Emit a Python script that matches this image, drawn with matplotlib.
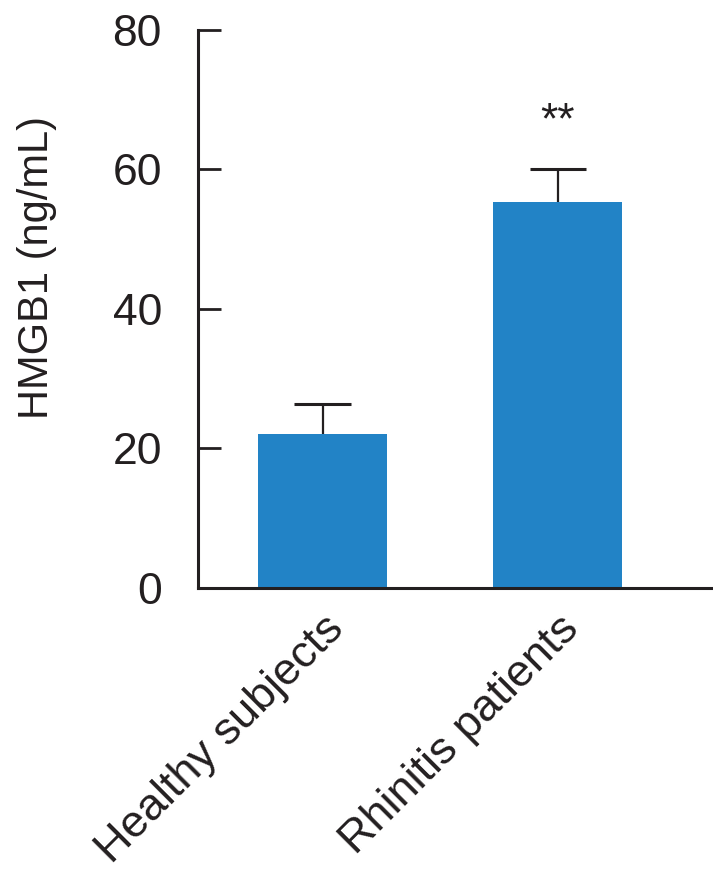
import numpy as np
import matplotlib.pyplot as plt

plt.rcParams['font.family'] = ['Liberation Sans', 'DejaVu Sans']

groups = ['Healthy subjects', 'Rhinitis patients']
means = np.array([22.0, 55.3])
sem = np.array([4.3, 4.7])
stars = ['', '**']

ink = '#231f20'
blue = '#2283c6'

fig = plt.figure(figsize=(7.13, 8.77), dpi=100)
ax = fig.add_axes([0.2777, 0.330, 0.7223, 0.6358])

x = np.arange(len(groups))
ax.bar(x, means, width=0.55, color=blue, zorder=2)
# upper-only error bars: stem plus cap
ax.vlines(x, means, means + sem, color=ink, linewidth=1.6, zorder=1)
ax.hlines(means + sem, x - 0.12, x + 0.12, color=ink, linewidth=2.2, zorder=1)

# significance marks above the error bars
for xi, m, s, lab in zip(x, means, sem, stars):
    if lab:
        ax.text(xi, m + s + 5.2, lab, ha='center', va='baseline',
                fontsize=32, color=ink)

ax.set_xlim(-0.53, 1.66)
ax.set_ylim(0, 80)
ax.set_yticks([0, 20, 40, 60, 80])
ax.set_xticks(x)
ax.set_xticklabels(groups, rotation=45, ha='right', rotation_mode='anchor',
                   fontsize=32.5, color=ink)
ax.tick_params(axis='x', length=0, pad=15)
ax.tick_params(axis='y', direction='in', length=16.5, width=2, colors=ink,
               labelsize=32, pad=26)

ax.set_ylabel('HMGB1 (ng/mL)', fontsize=30, color=ink)
ax.yaxis.set_label_coords(-0.274, 0.574)

for side in ['top', 'right']:
    ax.spines[side].set_visible(False)
for side in ['left', 'bottom']:
    ax.spines[side].set_linewidth(2.2)
    ax.spines[side].set_color(ink)

fig.savefig('out.png', dpi=100)
